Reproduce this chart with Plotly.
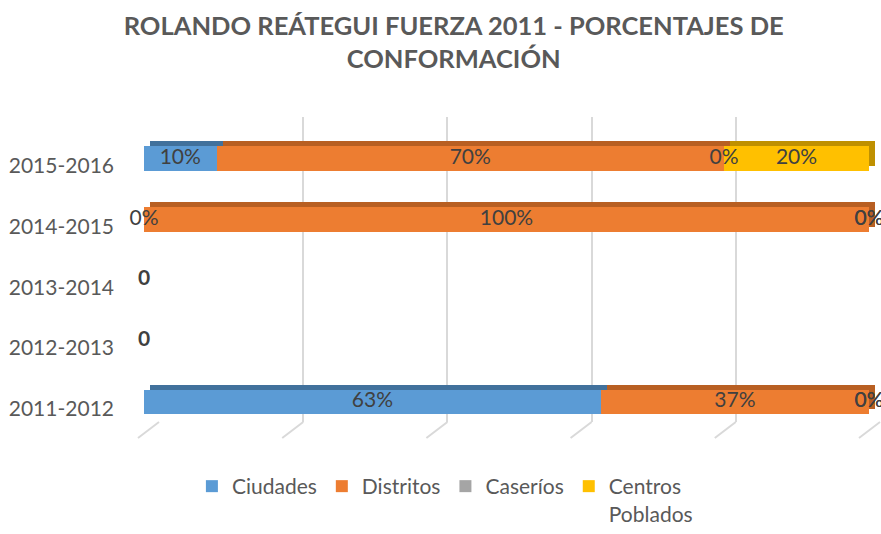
import plotly.graph_objects as go
import numpy as np

W, H = 881, 534

categories = ["2015-2016", "2014-2015", "2013-2014", "2012-2013", "2011-2012"]
series_names = ["Ciudades", "Distritos", "Caseríos", "Centros<br>Poblados"]
ciudades = [10, 0, 0, 0, 63]
distritos = [70, 100, 0, 0, 37]
caserios = [0, 0, 0, 0, 0]
centros = [20, 0, 0, 0, 0]
grid_ticks = [0, 20, 40, 60, 80, 100]

front_colors = ["#5B9BD5", "#ED7D31", "#A5A5A5", "#FFC000"]
top_colors = ["#41719C", "#B85F22", "#7C7C7C", "#BF9000"]

series = [ciudades, distritos, caserios, centros]

def px_x(p):
    return p / W

def px_y(p):
    return (H - p) / H

fig = go.Figure()

# back wall gridlines (subplot x/y, drawn first)
fig.add_trace(go.Scatter(x=[None], y=[None], xaxis="x", yaxis="y", showlegend=False, hoverinfo="skip"))

# 3D depth (top/side faces)
for vals, name, col in zip(series, series_names, top_colors):
    fig.add_trace(go.Bar(
        y=categories, x=vals, orientation="h", marker=dict(color=col, line=dict(width=0)),
        xaxis="x2", yaxis="y2", showlegend=False, hoverinfo="skip", width=0.41,
    ))

# front faces
for vals, name, col in zip(series, series_names, front_colors):
    fig.add_trace(go.Bar(
        y=categories, x=vals, orientation="h", name=name, xaxis="x3", yaxis="y3",
        marker=dict(color=col, line=dict(width=0)), width=0.41,
    ))

# data labels
arr = np.array(series, dtype=float)
totals = arr.sum(axis=0)
lx, ly, lt = [], [], []
for j, cat in enumerate(categories):
    if totals[j] == 0:
        lx.append(0); ly.append(cat); lt.append("<b>0</b>")
        continue
    cum = 0
    for i in range(len(series)):
        v = arr[i, j] / totals[j] * 100
        lx.append(cum + v / 2); ly.append(cat); lt.append(f"{round(v)}%")
        cum += v
fig.add_trace(go.Scatter(
    x=lx, y=ly, mode="text", text=lt, textposition="middle center", cliponaxis=False,
    textfont=dict(family="Lato", size=21, color="#404040"), xaxis="x3", yaxis="y3",
    showlegend=False, hoverinfo="skip",
))

# floor lines of the back wall
shapes = []
g0, g1 = 159, 880
for t in grid_ticks:
    xp = g0 + (g1 - g0) * t / 100
    shapes.append(dict(type="line", xref="paper", yref="paper", layer="below",
                       x0=px_x(xp), y0=px_y(422), x1=px_x(xp - 21), y1=px_y(438),
                       line=dict(color="#D9D9D9", width=2)))

fig.update_layout(
    width=W, height=H,
    margin=dict(l=0, r=0, t=0, b=0),
    paper_bgcolor="white", plot_bgcolor="rgba(0,0,0,0)",
    barmode="stack",
    font=dict(family="Lato", color="#595959"),
    title=dict(text="<b>ROLANDO REÁTEGUI FUERZA 2011 - PORCENTAJES DE<br>CONFORMACIÓN</b>",
               x=0.515, xanchor="center", y=px_y(35), yanchor="middle",
               font=dict(family="Lato", size=25.5, color="#595959")),
    xaxis=dict(domain=[px_x(g0), px_x(g1)], range=[0, 100], tickvals=grid_ticks,
               showgrid=True, gridcolor="#D9D9D9", gridwidth=2, showticklabels=False,
               zeroline=False, showline=False, anchor="y"),
    yaxis=dict(domain=[px_y(422), px_y(117)], range=[0, 1], visible=False, anchor="x"),
    xaxis2=dict(domain=[px_x(150), px_x(875)], range=[0, 100], visible=False, anchor="y2"),
    yaxis2=dict(domain=[px_y(427.45), px_y(123.05)], categoryorder="array",
                categoryarray=categories[::-1], range=[-0.5, 4.5], visible=False, anchor="x2"),
    xaxis3=dict(domain=[px_x(144), px_x(869)], range=[0, 100], visible=False, anchor="y3"),
    yaxis3=dict(domain=[px_y(432.45), px_y(128.05)], categoryorder="array", categoryarray=categories[::-1],
                range=[-0.5, 4.5], showgrid=False, zeroline=False, showline=False,
                ticks="", ticklabelstandoff=29, ticklabelshift=7,
                tickfont=dict(family="Lato", size=21, color="#595959"), anchor="x3"),
    legend=dict(orientation="h", x=0.505, xanchor="center", y=0.0, yanchor="bottom",
                font=dict(family="Lato", size=21, color="#595959"),
                traceorder="normal", itemwidth=30, valign="top"),
    shapes=shapes,
)

fig.write_html("out.html", config={"displayModeBar": False},
               post_script="document.body.style.margin='0px';")
